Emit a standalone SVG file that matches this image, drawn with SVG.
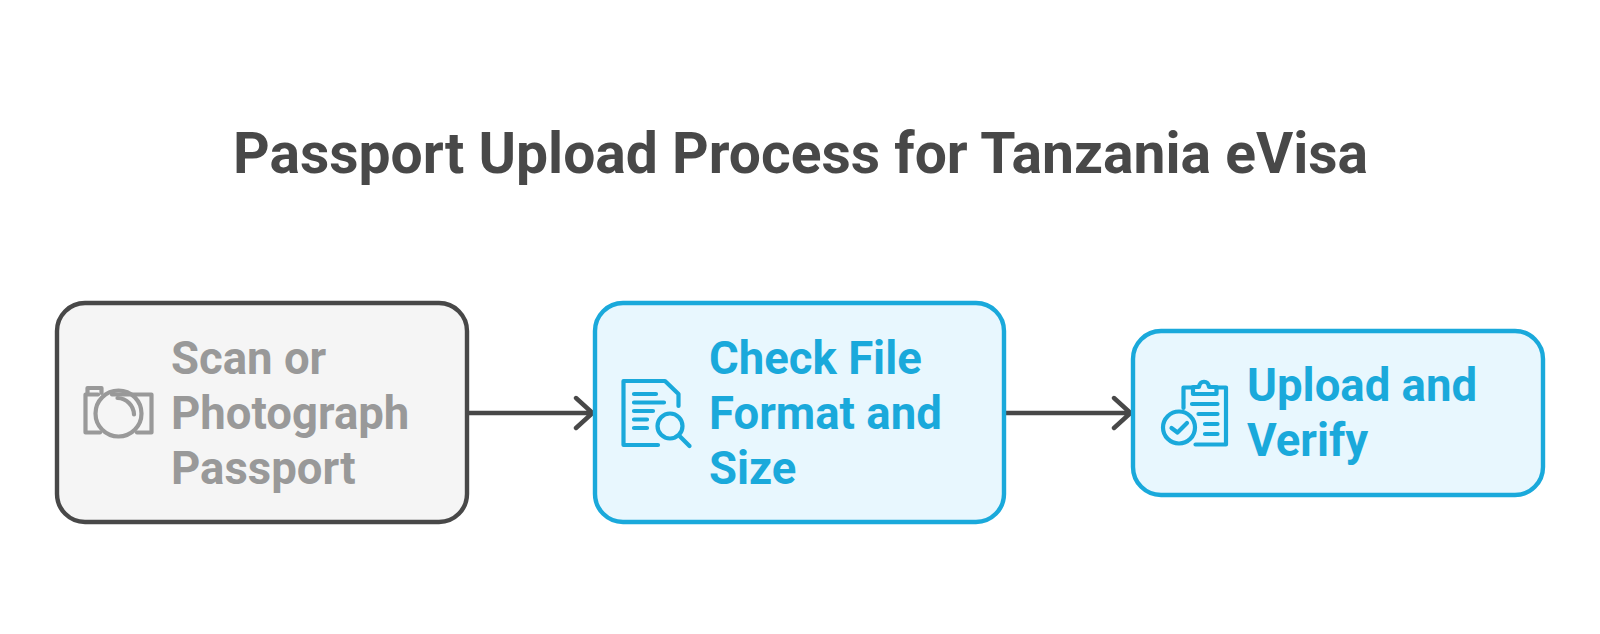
<svg xmlns="http://www.w3.org/2000/svg" width="1600" height="634" viewBox="0 0 1600 634">
<style>
text{font-family:Roboto,"Liberation Sans",sans-serif;font-weight:700}
.t{font-size:57px;fill:#484848}
.l{font-size:45.500px}
.g{fill:#999999}
.b{fill:#1AA9DB}
.box{stroke-width:4.400}
.gb{fill:#F5F5F5;stroke:#484848}
.bb{fill:#E8F7FE;stroke:#1AA9DB}
.ic{fill:none;stroke-width:4.200;stroke-linecap:round;stroke-linejoin:round}
.ig{stroke:#999999}
.ib{stroke:#1AA9DB}
.c{fill:none;stroke:#484848;stroke-width:4.400;stroke-linecap:round;stroke-linejoin:round}
</style>
<rect width="1600" height="634" fill="#FFFFFF"/>
<text id="title" class="t" x="233" y="172.500">Passport Upload Process for Tanzania eVisa</text>
<g id="connectors">
<path class="c" d="M467 413H592M576 398L592.500 413L576 428"/>
<path class="c" d="M1004 413H1130M1114 398L1130.500 413L1114 428"/>
</g>
<g id="node-scan">
<rect class="box gb" x="57" y="303" width="410" height="219" rx="28"/>
<g class="ic ig">
<path d="M112 394.500H151.500V432.500H137M100 432.500H85.500V394.500H98"/>
<path d="M87.500 393V388H101.500V393"/>
<circle cx="118.500" cy="413.500" r="23"/>
<path d="M117.500 398A17 17 0 0 1 134 414.500"/>
</g>
<text class="l g" x="171" y="374">Scan or</text>
<text class="l g" x="171" y="429">Photograph</text>
<text class="l g" x="171" y="484">Passport</text>
</g>
<g id="node-check">
<rect class="box bb" x="595" y="303" width="409" height="219" rx="28"/>
<g class="ic ib">
<path d="M658 445H623.500V381H665L678.500 394V406"/>
<path d="M634 394H656M634 402.500H664M634 411H653M634 419.500H647M634 428H647"/>
<circle cx="670" cy="426" r="12.500"/>
<path d="M680 436.500L689.500 446"/>
</g>
<text class="l b" x="709" y="374">Check File</text>
<text class="l b" x="709" y="429">Format and</text>
<text class="l b" x="709" y="484">Size</text>
</g>
<g id="node-upload">
<rect class="box bb" x="1133" y="331" width="410" height="164" rx="28"/>
<g class="ic ib">
<path d="M1183.500 408V387.500H1193M1216 387.500H1226V444.500H1195.500"/>
<path d="M1193 387H1199C1200 380 1208 380 1209 387H1216.500V394H1193Z"/>
<path d="M1192 404H1217.500M1198.500 414H1217.500M1205 424H1217.500M1205 434H1217.500"/>
<circle cx="1179" cy="427.500" r="16"/>
<path d="M1171.500 428L1177.500 432.500L1187 423"/>
</g>
<text class="l b" x="1247" y="401">Upload and</text>
<text class="l b" x="1247" y="456">Verify</text>
</g>
</svg>
